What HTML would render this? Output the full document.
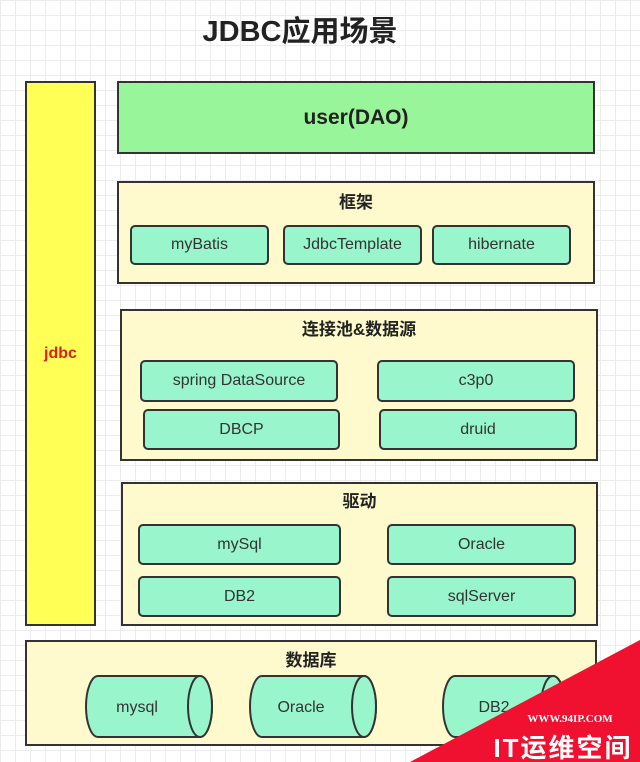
<!DOCTYPE html>
<html><head><meta charset="utf-8"><style>
body{margin:0;width:640px;height:762px;overflow:hidden;position:relative;font-family:"Liberation Sans","Noto Sans CJK SC",sans-serif;
background-color:#fff;background-image:linear-gradient(#ececec 1px,transparent 1px),linear-gradient(90deg,#ececec 1px,transparent 1px);background-size:15px 15px;}
.b{position:absolute;box-sizing:border-box;border:2px solid #333;}
.y{background:#fffacd;}
.t{position:absolute;left:0;right:0;text-align:center;font-weight:bold;font-size:17px;color:#222}
.n{position:absolute;box-sizing:border-box;border:2px solid #333;border-radius:5px;background:#98f5cc;text-align:center;font-size:16px;color:#333;display:flex;align-items:center;justify-content:center}
</style></head><body>
<div style="position:absolute;left:0;width:600px;top:8px;text-align:center;font-size:29px;font-weight:bold;color:#222">JDBC应用场景</div>
<div class="b" style="left:25px;top:81px;width:71px;height:545px;background:#ffff55;display:flex;align-items:center;justify-content:center;color:#e02020;font-weight:bold;font-size:16px">jdbc</div>
<div class="b" style="left:117px;top:81px;width:478px;height:73px;background:#99f599;display:flex;align-items:center;justify-content:center;font-weight:bold;font-size:21px;color:#222">user(DAO)</div>
<div class="b y" style="left:117px;top:181px;width:478px;height:103px"><div class="t" style="top:5px">框架</div></div>
<div class="n" style="left:130px;top:225px;width:139px;height:40px">myBatis</div>
<div class="n" style="left:283px;top:225px;width:139px;height:40px">JdbcTemplate</div>
<div class="n" style="left:432px;top:225px;width:139px;height:40px">hibernate</div>
<div class="b y" style="left:120px;top:309px;width:478px;height:152px"><div class="t" style="top:4px">连接池&amp;数据源</div></div>
<div class="n" style="left:140px;top:360px;width:198px;height:42px">spring DataSource</div>
<div class="n" style="left:377px;top:360px;width:198px;height:42px">c3p0</div>
<div class="n" style="left:143px;top:409px;width:197px;height:41px">DBCP</div>
<div class="n" style="left:379px;top:409px;width:198px;height:41px">druid</div>
<div class="b y" style="left:121px;top:482px;width:477px;height:144px"><div class="t" style="top:3px">驱动</div></div>
<div class="n" style="left:138px;top:524px;width:203px;height:41px">mySql</div>
<div class="n" style="left:387px;top:524px;width:189px;height:41px">Oracle</div>
<div class="n" style="left:138px;top:576px;width:203px;height:41px">DB2</div>
<div class="n" style="left:387px;top:576px;width:189px;height:41px">sqlServer</div>
<div class="b y" style="left:25px;top:640px;width:572px;height:106px"><div class="t" style="top:4px">数据库</div></div>
<svg style="position:absolute;left:0;top:0" width="640" height="762">
<g stroke="#333" stroke-width="2" fill="#98f5cc">
<path d="M98 676 H200 A12 30.5 0 0 1 200 737 H98 A12 30.5 0 0 1 98 676Z"/><ellipse cx="200" cy="706.5" rx="12" ry="30.5"/>
<path d="M262 676 H364 A12 30.5 0 0 1 364 737 H262 A12 30.5 0 0 1 262 676Z"/><ellipse cx="364" cy="706.5" rx="12" ry="30.5"/>
<path d="M455 676 H553 A12 30.5 0 0 1 553 737 H455 A12 30.5 0 0 1 455 676Z"/><ellipse cx="553" cy="706.5" rx="12" ry="30.5"/>
</g>
<g font-size="16" fill="#333" text-anchor="middle" font-family="Liberation Sans, sans-serif">
<text x="137" y="712">mysql</text><text x="301" y="712">Oracle</text><text x="494" y="712">DB2</text>
</g>
<polygon points="640,640 640,762 410,762" fill="#f01030"/>
<text x="570" y="722" fill="#fff" font-size="11" font-weight="bold" text-anchor="middle" font-family="Liberation Serif, serif">WWW.94IP.COM</text>
<text x="563" y="757" fill="#fff" font-size="26" font-weight="bold" text-anchor="middle" letter-spacing="2" font-family="Liberation Sans, Noto Sans CJK SC, sans-serif">IT运维空间</text>
</svg>
</body></html>
